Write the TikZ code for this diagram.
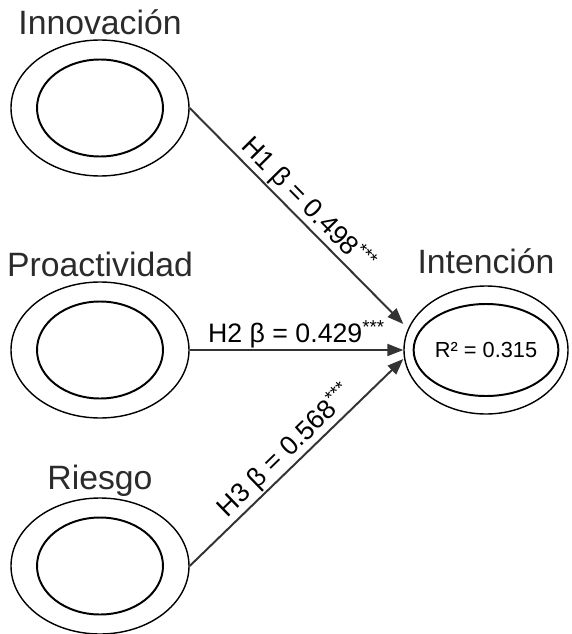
\documentclass[tikz,border=0pt]{standalone}
\usepackage{fontspec}
\setmainfont{Liberation Sans}
\usetikzlibrary{arrows.meta,positioning,shapes.geometric}
\tikzset{
outerstyle/.style={
  ellipse,
  line width=1pt,
  inner sep=0pt,
  minimum width=4.45cm,
  minimum height=3.4cm,
  draw=black,
  }
}
\tikzset{
innerstyle/.style={
  ellipse,
  line width=1.4pt,
  inner sep=0pt,
  minimum width=3.15cm,
  minimum height=2.425cm,
  draw=black,
  }
}
\tikzset{
namestyle/.style={
  inner sep=0pt,
  font=\fontsize{24}{28}\selectfont,
  text={rgb:black,5;white,1},
  }
}
\tikzset{
coefstyle/.style={
  inner sep=1pt,
  sloped,
  above,
  font=\fontsize{19}{22}\selectfont,
  text=black,
  }
}
\tikzset{
myline/.style={
  line width=1.4pt,
  color={rgb:black,4;white,1},
  -{Triangle[length=4mm,width=3mm]}
  }
}

\begin{document}
\begin{tikzpicture}[scale=1.0]
    \useasboundingbox (0,0) rectangle (14.275,-15.85);

    % predictor constructs
    \node[outerstyle] (inno_out) at (2.5,-2.7) {};
    \node[innerstyle] (inno_in) at (inno_out) {};
    \node[namestyle, above=0.125cm of inno_out, anchor=base] (inno_lbl) {Innovación};

    \node[outerstyle] (proa_out) at (2.5,-8.75) {};
    \node[innerstyle] (proa_in) at (proa_out) {};
    \node[namestyle, above=0.125cm of proa_out, anchor=base] (proa_lbl) {Proactividad};

    \node[outerstyle] (ries_out) at (2.5,-14.15) {};
    \node[innerstyle] (ries_in) at (ries_out) {};
    \node[namestyle, above=0.2cm of ries_out, anchor=base] (ries_lbl) {Riesgo};

    % outcome construct
    \node[outerstyle, minimum width=4.1cm, minimum height=3.2cm] (inte_out) at (12.15,-8.75) {};
    \node[innerstyle, minimum width=3.1cm, minimum height=2.3cm, font=\fontsize{15.5}{18}\selectfont] (inte_in) at (inte_out) {R² = 0.315};
    \node[namestyle, above=0.3cm of inte_out, anchor=base] (inte_lbl) {Intención};

    % path edges
    \draw[myline] (inno_out.east) -- node[coefstyle] {H1 β = 0.498\textsuperscript{***}} ([yshift=0.65cm]inte_out.west);
    \draw[myline] (proa_out.east) -- node[coefstyle] {H2 β = 0.429\textsuperscript{***}} (inte_out.west);
    \draw[myline] (ries_out.east) -- node[coefstyle] {H3 β = 0.568\textsuperscript{***}} ([yshift=-0.225cm]inte_out.west);
\end{tikzpicture}
\end{document}
